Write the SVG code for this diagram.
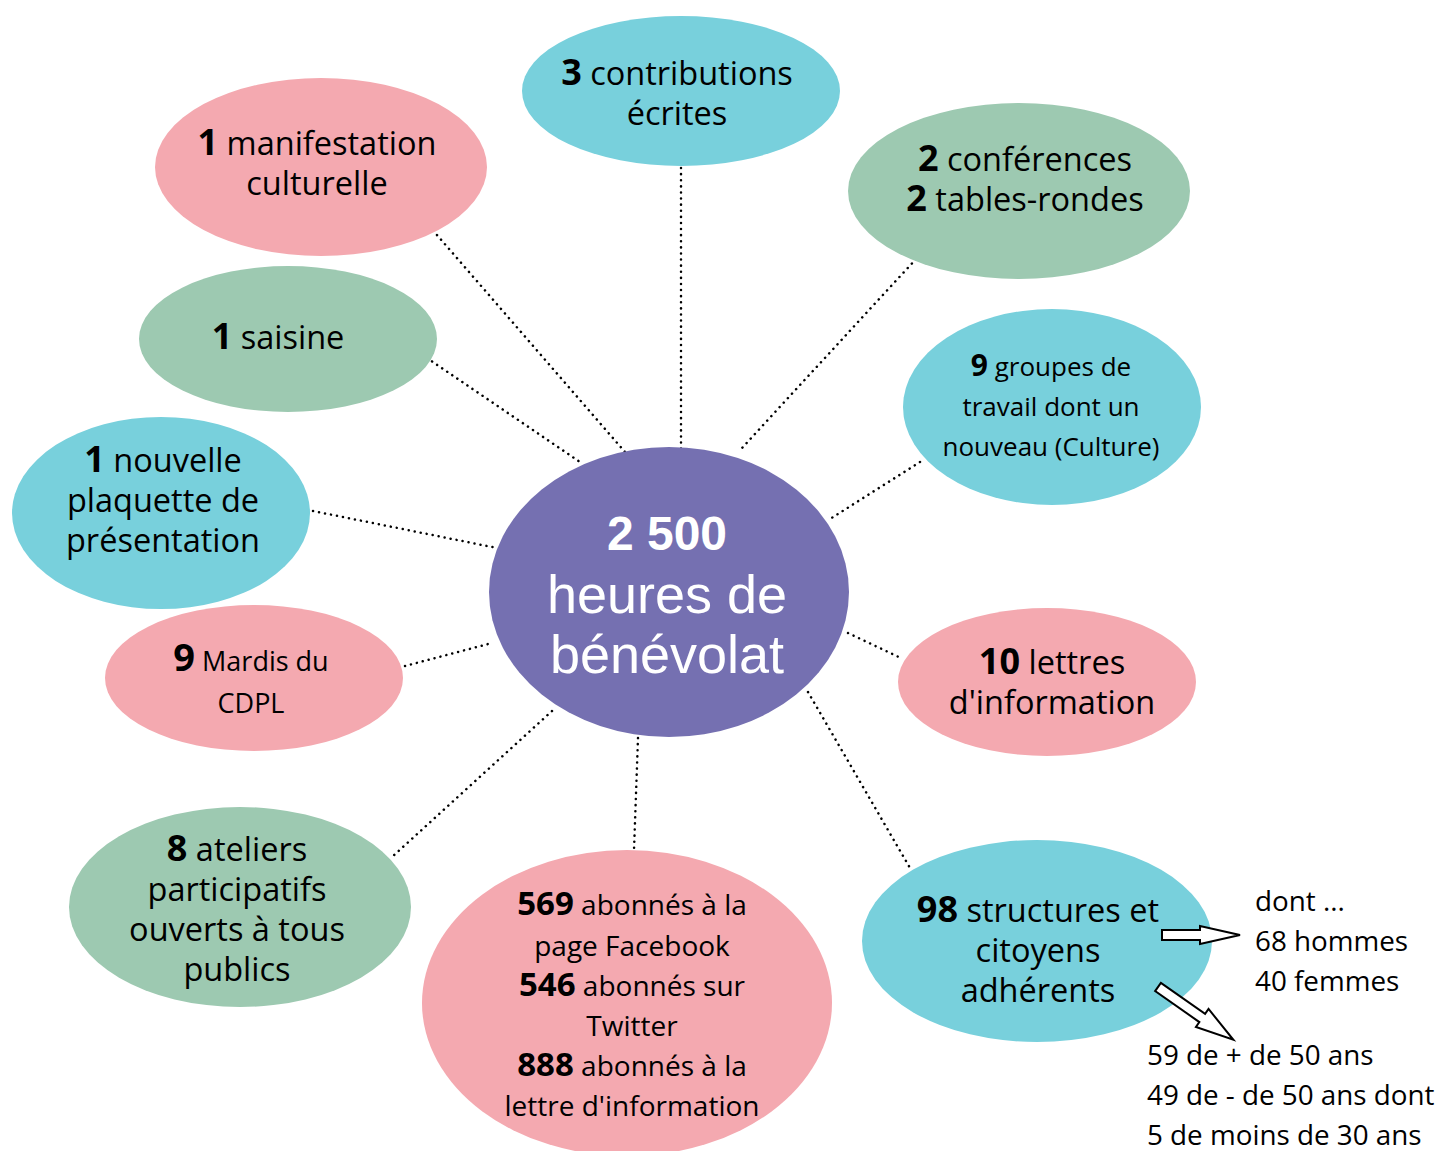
<svg xmlns="http://www.w3.org/2000/svg" width="1440" height="1151" viewBox="0 0 1440 1151">
<style>
.pink{fill:#F4A9B0}.blue{fill:#78D0DC}.green{fill:#9DC9B1}.center{fill:#7570B1}
.t{font-family:"Open Sans","Noto Sans",sans-serif;font-size:32.5px;fill:#000;text-anchor:middle}
.t .b{font-size:36px}
.t.s{font-size:26px}
.t.s .b{font-size:30px}
.t.m{font-size:27px}
.t.m .b{font-size:38px}
.t.a{font-size:28px}
.t.a .b{font-size:33px}
.b{font-weight:bold}
.c{font-family:"Liberation Sans",Arial,sans-serif;font-size:54px;fill:#fff;text-anchor:middle}
.c.b{font-size:48px}
.side{font-family:"Open Sans","Noto Sans",sans-serif;font-size:27.8px;fill:#000}
.dot{stroke:#000;stroke-width:2.5;stroke-dasharray:0.1 6;stroke-linecap:round;fill:none}
.arr{fill:#fff;stroke:#000;stroke-width:2}
</style>
<rect width="1440" height="1151" fill="#fff"/>
<g id="connectors">
<line class="dot" x1="437" y1="235" x2="625" y2="452"/>
<line class="dot" x1="681" y1="168" x2="681" y2="450"/>
<line class="dot" x1="916" y1="259" x2="742" y2="448"/>
<line class="dot" x1="427" y1="358" x2="580" y2="462"/>
<line class="dot" x1="920" y1="462" x2="830" y2="519"/>
<line class="dot" x1="313" y1="511" x2="497" y2="548"/>
<line class="dot" x1="405" y1="666" x2="492" y2="643"/>
<line class="dot" x1="848" y1="633" x2="903" y2="659"/>
<line class="dot" x1="552" y1="711" x2="392" y2="857"/>
<line class="dot" x1="638" y1="738" x2="634" y2="850"/>
<line class="dot" x1="808" y1="692" x2="910" y2="868"/>
</g>
<g id="n-contrib"><ellipse class="blue" cx="681" cy="91" rx="159" ry="75"/>
<text class="t" x="677" y="85"><tspan class="b">3</tspan> contributions</text><text class="t" x="677" y="125">écrites</text></g>
<g id="n-manif"><ellipse class="pink" cx="321" cy="167" rx="166" ry="89"/>
<text class="t" x="317" y="155"><tspan class="b">1</tspan> manifestation</text><text class="t" x="317" y="195">culturelle</text></g>
<g id="n-conf"><ellipse class="green" cx="1019" cy="191" rx="171" ry="88"/>
<text class="t" x="1025" y="171"><tspan class="b">2</tspan> conférences</text><text class="t" x="1025" y="211"><tspan class="b">2</tspan> tables-rondes</text></g>
<g id="n-saisine"><ellipse class="green" cx="288" cy="339" rx="149" ry="73"/>
<text class="t" x="278" y="349"><tspan class="b">1</tspan> saisine</text></g>
<g id="n-groupes"><ellipse class="blue" cx="1052" cy="407" rx="149" ry="98"/>
<text class="t s" x="1051" y="376"><tspan class="b">9</tspan> groupes de</text><text class="t s" x="1051" y="416">travail dont un</text><text class="t s" x="1051" y="456">nouveau (Culture)</text></g>
<g id="n-plaquette"><ellipse class="blue" cx="161" cy="513" rx="149" ry="96"/>
<text class="t" x="163" y="472"><tspan class="b">1</tspan> nouvelle</text><text class="t" x="163" y="512">plaquette de</text><text class="t" x="163" y="552">présentation</text></g>
<g id="n-mardis"><ellipse class="pink" cx="254" cy="678" rx="149" ry="73"/>
<text class="t m" x="251" y="671"><tspan class="b">9</tspan> Mardis du</text><text class="t m" x="251" y="713">CDPL</text></g>
<g id="n-lettres"><ellipse class="pink" cx="1047" cy="682" rx="149" ry="74"/>
<text class="t" x="1052" y="674"><tspan class="b">10</tspan> lettres</text><text class="t" x="1052" y="714">d'information</text></g>
<g id="n-ateliers"><ellipse class="green" cx="240" cy="907" rx="171" ry="100"/>
<text class="t" x="237" y="861"><tspan class="b">8</tspan> ateliers</text><text class="t" x="237" y="901">participatifs</text><text class="t" x="237" y="941">ouverts à tous</text><text class="t" x="237" y="981">publics</text></g>
<g id="n-abonnes"><ellipse class="pink" cx="627" cy="1003" rx="205" ry="153"/>
<text class="t a" x="632" y="915"><tspan class="b">569</tspan> abonnés à  la</text><text class="t a" x="632" y="956">page Facebook</text><text class="t a" x="632" y="996"><tspan class="b">546</tspan> abonnés sur</text><text class="t a" x="632" y="1036">Twitter</text><text class="t a" x="632" y="1076"><tspan class="b">888</tspan> abonnés à la</text><text class="t a" x="632" y="1116">lettre d'information</text></g>
<g id="n-structures"><ellipse class="blue" cx="1037" cy="941" rx="175" ry="101"/>
<text class="t" x="1038" y="922"><tspan class="b">98</tspan> structures et</text><text class="t" x="1038" y="962">citoyens</text><text class="t" x="1038" y="1002">adhérents</text></g>
<g id="n-center"><ellipse class="center" cx="669" cy="592" rx="180" ry="145"/>
<text class="c b" x="667" y="550">2 500</text><text class="c" x="667" y="613">heures de</text><text class="c" x="667" y="673">bénévolat</text></g>
<g id="details">
<polygon class="arr" points="1162,930 1200,930 1200,926 1240,935 1200,944 1200,940 1162,940"/>
<polygon class="arr" transform="translate(1158,987) rotate(35)" points="0,-5 54,-5 54,-11 92,0 54,11 54,5 0,5"/>
<text class="side" x="1255" y="911">dont ...</text>
<text class="side" x="1255" y="951">68 hommes</text>
<text class="side" x="1255" y="991">40 femmes</text>
<text class="side" x="1147" y="1065">59 de + de 50 ans</text>
<text class="side" x="1147" y="1105">49 de - de 50 ans dont</text>
<text class="side" x="1147" y="1145">5 de moins de 30 ans</text>
</g>
</svg>
